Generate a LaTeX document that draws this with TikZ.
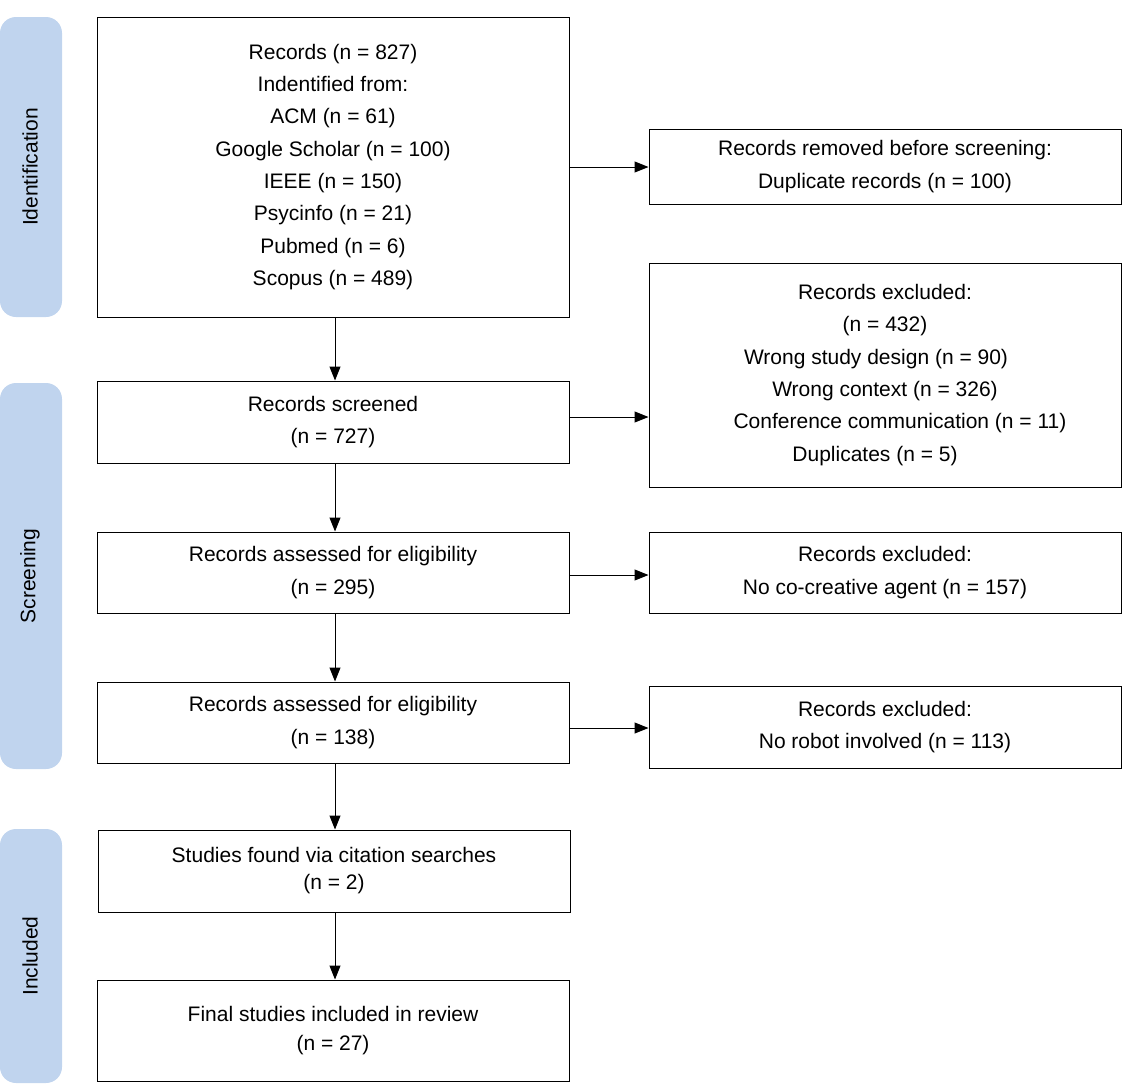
\documentclass[tikz,border=0pt]{standalone}
\usepackage{fontspec}
\setmainfont{Liberation Sans}
\usetikzlibrary{arrows.meta}
\begin{document}
\begin{tikzpicture}[x=1pt,y=-1pt,
  box/.style={draw,line width=1pt,align=center,font=\fontsize{21}{32.3}\selectfont,inner sep=0pt},
  side/.style={fill=blue!25!cyan!15!white,draw=none,rounded corners=14pt},
  sidelabel/.style={rotate=90,font=\fontsize{21}{25}\selectfont},
  arr/.style={-{Triangle[length=14pt,width=11pt]},line width=1pt}]
\useasboundingbox (0,0) rectangle (1123,1085);
\definecolor{sb}{HTML}{C0D4EE}
\fill[sb,rounded corners=16pt] (0,17) rectangle (62,317);
\fill[sb,rounded corners=16pt] (0,383) rectangle (62,769);
\fill[sb,rounded corners=16pt] (0,829) rectangle (62,1083);
\node[sidelabel] (s1) at (30,167) {Identification};
\node[sidelabel] (s2) at (30,576) {Screening};
\node[sidelabel] (s3) at (30,956) {Included};
\node[box,minimum width=472pt,minimum height=300pt] (a) at (333,167) {Records (n = 827)\\ Indentified from:\\ ACM (n = 61)\\ Google Scholar (n = 100)\\ IEEE (n = 150)\\ Psycinfo (n = 21)\\ Pubmed (n = 6)\\ Scopus (n = 489)};
\node[box,minimum width=472pt,minimum height=75pt] (r) at (885,166.5) {Records removed before screening:\\ Duplicate records (n = 100)};
\node[box,minimum width=472pt,minimum height=82pt] (b) at (333,422) {Records screened\\ (n = 727)};
\node[box,minimum width=472pt,minimum height=224pt] (e1) at (885,375) {Records excluded:\\ (n = 432)\\ \hspace*{-18pt}Wrong study design (n = 90)\\ Wrong context (n = 326)\\ \hspace*{30pt}Conference communication (n = 11)\\ \hspace*{-20pt}Duplicates (n = 5)};
\node[box,minimum width=472pt,minimum height=81pt] (c) at (333,572.5) {Records assessed for eligibility\\ (n = 295)};
\node[box,minimum width=472pt,minimum height=81pt] (e2) at (885,572.5) {Records excluded:\\ No co-creative agent (n = 157)};
\node[box,minimum width=472pt,minimum height=81pt] (d) at (333,722.5) {Records assessed for eligibility\\ (n = 138)};
\node[box,minimum width=472pt,minimum height=82pt] (e3) at (885,727) {Records excluded:\\ No robot involved (n = 113)};
\node[box,minimum width=472pt,minimum height=82pt,font=\fontsize{21}{27}\selectfont] (f) at (334,871) {Studies found via citation searches\\ (n = 2)};
\node[box,minimum width=472pt,minimum height=101pt,font=\fontsize{21}{29}\selectfont] (g) at (333,1030.5) {Final studies included in review\\ (n = 27)};
\draw[arr] (a.south -| 335,0) -- (b.north -| 335,0);
\draw[arr] (b.south -| 335,0) -- (c.north -| 335,0);
\draw[arr] (c.south -| 335,0) -- (d.north -| 335,0);
\draw[arr] (d.south -| 335,0) -- (f.north -| 335,0);
\draw[arr] (f.south -| 335,0) -- (g.north -| 335,0);
\draw[arr] (a.east |- 0,167) -- (r.west |- 0,167);
\draw[arr] (b.east |- 0,417) -- (e1.west |- 0,417);
\draw[arr] (c.east |- 0,575) -- (e2.west |- 0,575);
\draw[arr] (d.east |- 0,728) -- (e3.west |- 0,728);
\end{tikzpicture}
\end{document}
